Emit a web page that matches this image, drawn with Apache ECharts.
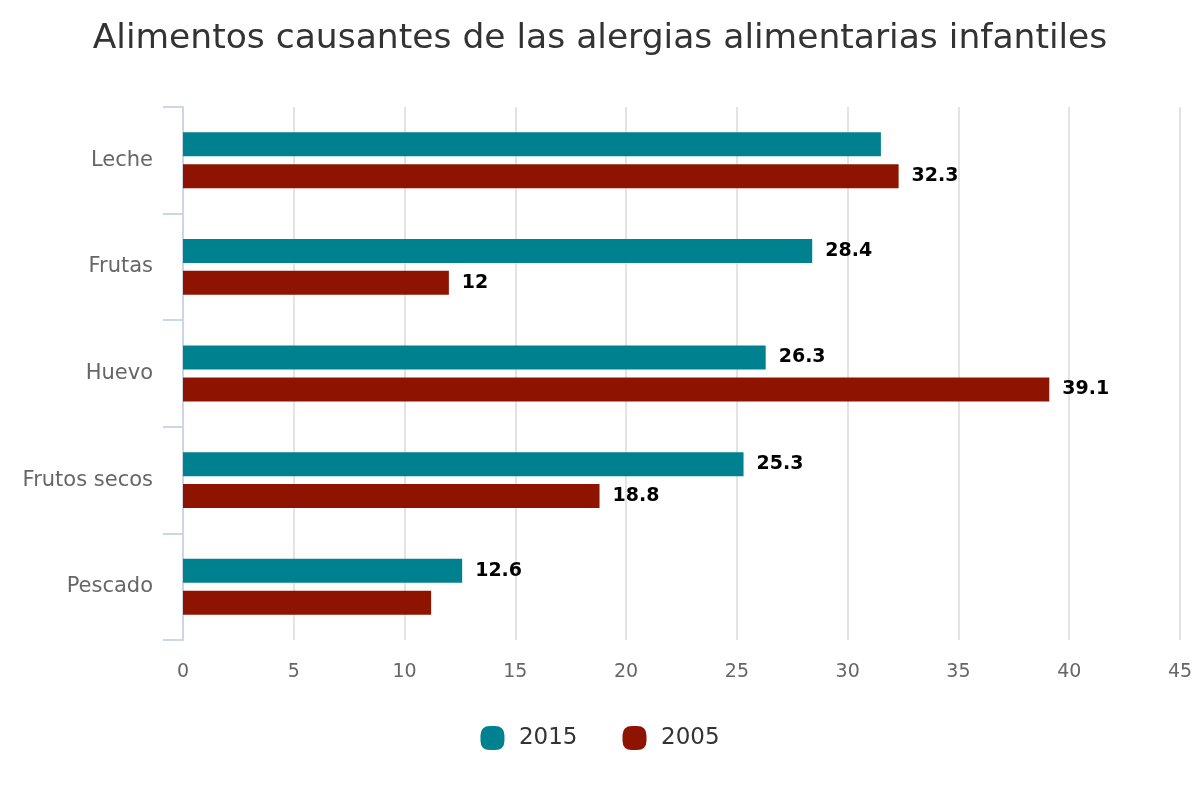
<!DOCTYPE html>
<html>
<head>
<meta charset="utf-8">
<script src="https://cdn.jsdelivr.net/npm/echarts@6/dist/echarts.min.js"></script>
<style>html,body{margin:0;padding:0;background:#fff}#c{width:1200px;height:800px}</style>
</head>
<body>
<div id="c"></div>
<script>
const categories = ['Leche', 'Frutas', 'Huevo', 'Frutos secos', 'Pescado'];
const series2015 = [31.5, 28.4, 26.3, 25.3, 12.6];
const series2005 = [32.3, 12, 39.1, 18.8, 11.2];
const hidden2015 = [true, false, false, false, false];
const hidden2005 = [false, false, false, false, true];
const xTicks = [0, 5, 10, 15, 20, 25, 30, 35, 40, 45];

const FONT = 'DejaVu Sans';
const ICON = 'path://M40,0 L60,0 Q100,0 100,40 L100,60 Q100,100 60,100 L40,100 Q0,100 0,60 L0,40 Q0,0 40,0 Z';
function mk(vals, hid) {
  return vals.map((v, i) => hid[i] ? { value: v, label: { show: false } } : v);
}
const chart = echarts.init(document.getElementById('c'));
chart.setOption({
  animation: false,
  title: {
    text: 'Alimentos causantes de las alergias alimentarias infantiles',
    left: 'center', top: 17,
    textStyle: { fontFamily: FONT, fontSize: 34.5, fontWeight: 'normal', color: '#333' }
  },
  legend: {
    bottom: 45, left: 'center', itemWidth: 25, itemHeight: 24, itemGap: 45,
    icon: ICON,
    textStyle: { fontFamily: FONT, fontSize: 23, color: '#333', padding: [0, 0, 0, 9] },
    data: ['2015', '2005']
  },
  grid: { left: 183, right: 20, top: 107, bottom: 160 },
  xAxis: {
    type: 'value', min: xTicks[0], max: xTicks[xTicks.length - 1], interval: 5,
    axisLine: { show: false }, axisTick: { show: false },
    splitLine: { show: true, lineStyle: { color: '#e3e3e3', width: 2 } },
    axisLabel: { fontFamily: FONT, fontSize: 19, color: '#666', margin: 23 }
  },
  yAxis: {
    type: 'category', data: categories, inverse: true,
    axisLine: { show: true, lineStyle: { color: '#ccd6e6', width: 2 } },
    axisTick: { show: true, length: 20, lineStyle: { color: '#ccd6e6', width: 2 } },
    axisLabel: { fontFamily: FONT, fontSize: 21, color: '#666', margin: 30 }
  },
  series: [
    {
      name: '2015', type: 'bar', data: mk(series2015, hidden2015),
      barWidth: 24, barGap: '33%',
      itemStyle: { color: '#00818f' },
      label: { show: true, position: 'right', distance: 13, fontFamily: FONT, fontSize: 19, fontWeight: 'bold', color: '#000' }
    },
    {
      name: '2005', type: 'bar', data: mk(series2005, hidden2005),
      barWidth: 24,
      itemStyle: { color: '#8e1300' },
      label: { show: true, position: 'right', distance: 13, fontFamily: FONT, fontSize: 19, fontWeight: 'bold', color: '#000' }
    }
  ]
});
</script>
</body>
</html>
